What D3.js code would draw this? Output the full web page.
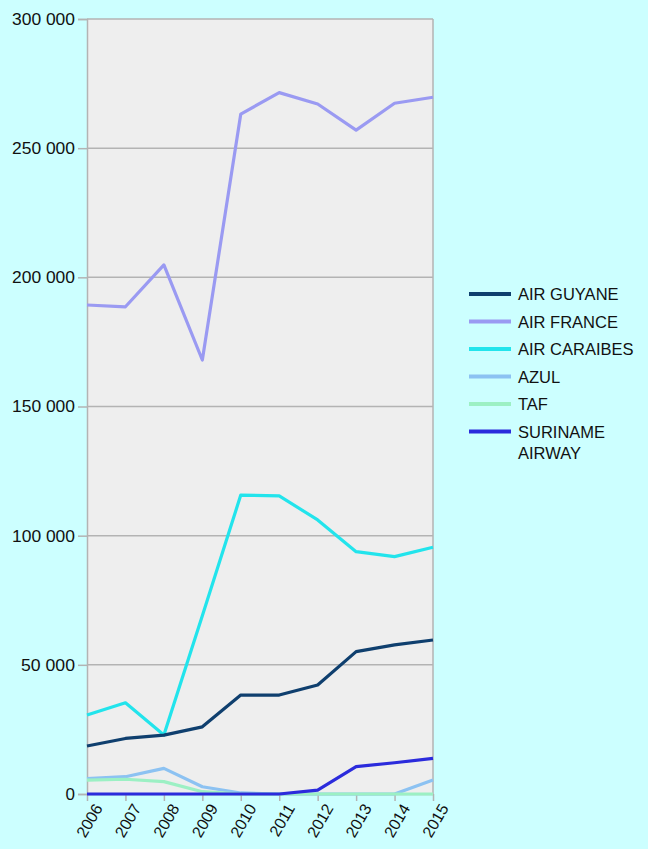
<!DOCTYPE html>
<html>
<head>
<meta charset="utf-8">
<script src="https://cdn.jsdelivr.net/npm/d3@7"></script>
<style>
  body { margin: 0; background: #ccffff; }
  text { font-family: "Liberation Sans", Arial, sans-serif; fill: #111; }
</style>
</head>
<body>
<script>
// passengers per airline
var years = [2006, 2007, 2008, 2009, 2010, 2011, 2012, 2013, 2014, 2015];
var airGuyane   = [18600, 21500, 22800, 26000, 38300, 38300, 42200, 55100, 57700, 59600];
var airFrance   = [189300, 188600, 204800, 168000, 263200, 271500, 267100, 257000, 267400, 269700];
var airCaraibes = [30600, 35300, 22800, 69000, 115700, 115400, 106100, 93800, 91900, 95500];
var azul        = [6000, 6700, 9900, 2800, 400, 0, 0, 0, 0, 5400];
var taf         = [5400, 5700, 4800, 900, 0, 0, 0, 0, 0, 0];
var suriname    = [0, 0, 0, 0, 0, 0, 1500, 10600, 12100, 13800];
var yTicks = [0, 50000, 100000, 150000, 200000, 250000, 300000];

var series = [
  {name: ["AIR GUYANE"], values: airGuyane, color: "#0f3f6e"},
  {name: ["AIR FRANCE"], values: airFrance, color: "#9a9af2"},
  {name: ["AIR CARAIBES"], values: airCaraibes, color: "#22e4ec"},
  {name: ["AZUL"], values: azul, color: "#8cc2f2"},
  {name: ["TAF"], values: taf, color: "#9cf0c4"},
  {name: ["SURINAME", "AIRWAY"], values: suriname, color: "#2b2bdc"}
];
// draw order: later on top
var drawOrder = [3, 4, 1, 2, 0, 5];

var width = 648, height = 849;
var svg = d3.select("body").append("svg")
    .attr("width", width)
    .attr("height", height);

var x = d3.scaleLinear().domain([2006, 2015]).range([87, 433]);
var y = d3.scaleLinear().domain([0, 300000]).range([794, 19]);

svg.append("rect")
    .attr("x", x.range()[0]).attr("y", y.range()[1])
    .attr("width", x.range()[1] - x.range()[0])
    .attr("height", y.range()[0] - y.range()[1])
    .attr("fill", "#eeeeee");

var fmt = function(d) { return d3.format(",")(d).replace(/,/g, " "); };

// grid
svg.append("g")
  .selectAll("line")
  .data(yTicks.slice(1))
  .enter().append("line")
    .attr("x1", x.range()[0]).attr("x2", x.range()[1])
    .attr("y1", function(d) { return y(d); })
    .attr("y2", function(d) { return y(d); })
    .attr("stroke", "#b3b3b3")
    .attr("stroke-width", 1.5);

var yAxis = svg.append("g")
    .attr("transform", "translate(" + x.range()[0] + ",0)")
    .call(d3.axisLeft(y).tickValues(yTicks).tickFormat(fmt).tickSize(9).tickPadding(3));
yAxis.selectAll("line").attr("stroke", "#b3b3b3").attr("stroke-width", 1.5);
yAxis.select(".domain").attr("stroke", "#b3b3b3").attr("stroke-width", 1.5);
yAxis.selectAll("text").attr("font-size", 17).attr("fill", "#1a1a1a")
    .attr("textLength", 63).attr("lengthAdjust", "spacingAndGlyphs")
    .each(function(d) { if (d < 100000) d3.select(this).attr("textLength", d ? 54 : null); });

var xAxis = svg.append("g")
    .attr("transform", "translate(0," + y.range()[0] + ")")
    .call(d3.axisBottom(x).tickValues(years).tickFormat(d3.format("d")).tickSize(7).tickSizeOuter(0));
xAxis.selectAll("line").attr("stroke", "#b3b3b3").attr("stroke-width", 1.5);
xAxis.select(".domain").attr("stroke", "#b3b3b3").attr("stroke-width", 1.5);
xAxis.selectAll("text")
    .attr("font-size", 16)
    .attr("fill", "#1a1a1a")
    .attr("text-anchor", "end")
    .attr("dy", null)
    .attr("transform", "translate(7,9) rotate(-60)");

// right border of plot
svg.append("line")
    .attr("x1", x.range()[1]).attr("x2", x.range()[1])
    .attr("y1", y.range()[1]).attr("y2", y.range()[0])
    .attr("stroke", "#b3b3b3").attr("stroke-width", 1.5);

var line = d3.line()
    .x(function(d, i) { return x(years[i]); })
    .y(function(d) { return y(d); });

svg.append("g")
  .selectAll("path")
  .data(drawOrder.map(function(i) { return series[i]; }))
  .enter().append("path")
    .attr("d", function(d) { return line(d.values); })
    .attr("fill", "none")
    .attr("stroke", function(d) { return d.color; })
    .attr("stroke-width", 3.2)
    .attr("stroke-linejoin", "round");

// legend
var legend = svg.append("g").attr("transform", "translate(469,294)");
var item = legend.selectAll("g")
    .data(series)
    .enter().append("g")
    .attr("transform", function(d, i) { return "translate(0," + (i * 27.5) + ")"; });
item.append("line")
    .attr("x1", 0).attr("x2", 42)
    .attr("stroke", function(d) { return d.color; })
    .attr("stroke-width", 4);
item.append("text")
    .attr("x", 49)
    .attr("y", 6)
    .attr("font-size", 16.5)
    .attr("fill", "#1a1a1a")
    .selectAll("tspan")
    .data(function(d) { return d.name; })
    .enter().append("tspan")
      .attr("x", 49)
      .attr("dy", function(d, i) { return i ? 21 : 0; })
      .text(function(d) { return d; });
</script>
</body>
</html>
